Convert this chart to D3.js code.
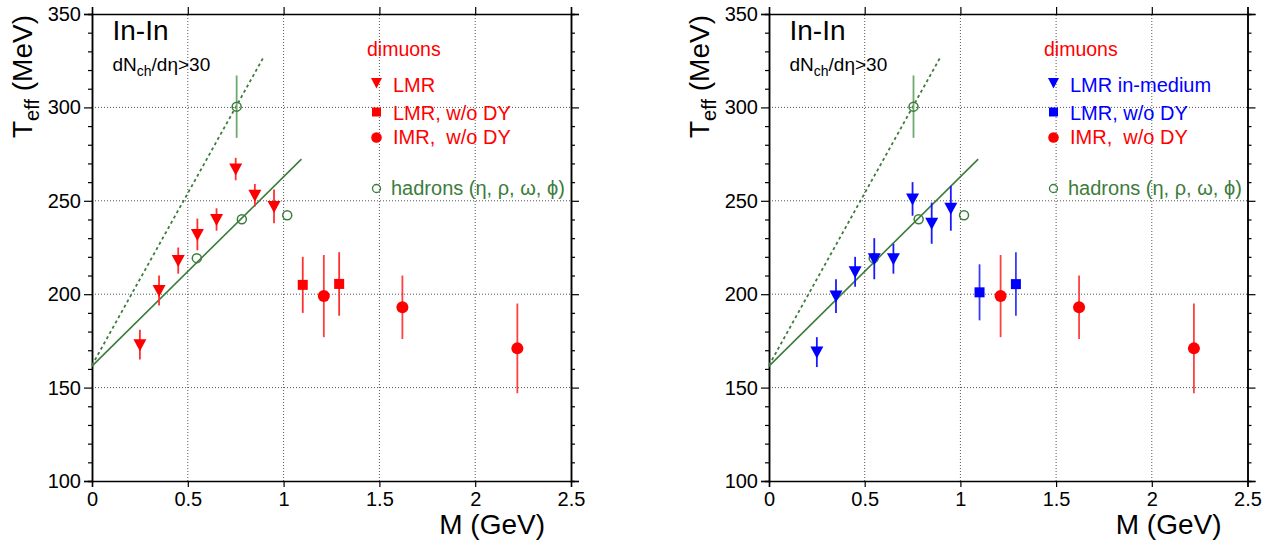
<!DOCTYPE html>
<html><head><meta charset="utf-8">
<script src="https://cdn.jsdelivr.net/npm/d3@7"></script>
<style>body{margin:0;background:#fff}svg{display:block}text{font-family:"Liberation Sans",Arial,sans-serif}</style>
</head><body>
<svg id="c" width="1272" height="544"></svg>
<script>
// ---- data ----
const xTicks = [0, 0.5, 1, 1.5, 2, 2.5];
const xTickLabels = ["0", "0.5", "1", "1.5", "2", "2.5"];
const yTicks = [100, 150, 200, 250, 300, 350];
const yTickLabels = ["100", "150", "200", "250", "300", "350"];

const lmrM = [0.25, 0.35, 0.45, 0.55, 0.65, 0.75, 0.85, 0.95];
const lmrTLeft = [173, 202, 218, 232, 240, 267, 253, 247];
const lmrErrLeft = [8, 8, 7, 8.5, 6, 6, 6, 9];
const lmrTRight = [169, 199, 212, 219, 219, 251, 238, 246];
const lmrErrRight = [8, 9, 8, 11, 8, 9, 11, 12];

const dyM = [1.10, 1.29];
const dyTLeft = [205, 205.5];
const dyErrLeft = [15, 17];
const dyTRight = [201, 205.4];
const dyErrRight = [15, 17];

const imrM = [1.21, 1.62, 2.22];
const imrT = [199, 193, 171];
const imrErr = [22, 17, 24];

const hadM = [0.547, 0.755, 0.782, 1.019];
const hadT = [219.3, 300.4, 240.1, 242.3];
const hadErr = [0, 16.7, 0, 0];

const solidLine = [[0, 161.5], [1.093, 272.3]];
const dashedLine = [[0, 162], [0.896, 327]];

const RED = "#ff0000", BLUE = "#0000ff", GREEN = "#3c7c3c";

const svg = d3.select("#c");

function panel(x0, x1, lmrT, lmrErr, dyT, dyErr, lmrColor, dyColor, lmrLabel) {
  const y0 = 481, y1 = 14;
  const x = d3.scaleLinear().domain([0, 2.5]).range([x0, x1]);
  const y = d3.scaleLinear().domain([100, 350]).range([y0, y1]);
  const g = svg.append("g");

  // grid
  const grid = g.append("g").attr("stroke", "#555").attr("stroke-width", 1).attr("stroke-dasharray", "1,2");
  grid.selectAll("line.v").data(xTicks.slice(1, -1)).join("line")
    .attr("x1", d => x(d)).attr("x2", d => x(d)).attr("y1", y0).attr("y2", y1);
  grid.selectAll("line.h").data(yTicks.slice(1, -1)).join("line")
    .attr("x1", x0).attr("x2", x1).attr("y1", d => y(d)).attr("y2", d => y(d));

  // axes
  const minorY = d3.range(100, 351, 10).filter(v => v % 50 !== 0);
  const ax = (sel) => sel.call(s => s.select(".domain").attr("stroke", "#000").attr("stroke-width", 1.5))
    .call(s => s.selectAll(".tick line").attr("stroke", "#000").attr("stroke-width", 1.2));
  g.append("g").attr("transform", `translate(${x0},0)`)
    .call(d3.axisLeft(y).tickValues(yTicks).tickSize(8).tickPadding(3).tickFormat((d, i) => yTickLabels[i]))
    .call(ax).call(s => s.selectAll("text").attr("font-size", 20).attr("fill", "#000")
      .style("font-family", '"Liberation Sans",Arial,sans-serif'));
  g.append("g").attr("transform", `translate(${x0},0)`)
    .call(d3.axisLeft(y).tickValues(minorY).tickSize(4).tickFormat("")).call(ax);
  g.append("g").attr("transform", `translate(${x1},0)`)
    .call(d3.axisRight(y).tickValues(yTicks).tickSize(8).tickFormat("")).call(ax);
  g.append("g").attr("transform", `translate(${x1},0)`)
    .call(d3.axisRight(y).tickValues(minorY).tickSize(4).tickFormat("")).call(ax);
  g.append("g").attr("transform", `translate(0,${y0})`)
    .call(d3.axisBottom(x).tickValues(xTicks).tickSize(6).tickPadding(5).tickFormat((d, i) => xTickLabels[i]))
    .call(ax).call(s => s.selectAll("text").attr("font-size", 20).attr("fill", "#000")
      .style("font-family", '"Liberation Sans",Arial,sans-serif'));
  g.append("g").attr("transform", `translate(0,${y1})`)
    .call(d3.axisTop(x).tickValues(xTicks).tickSize(7).tickFormat("")).call(ax);

  // titles
  g.append("text").attr("x", x1 - 26).attr("y", 534).attr("text-anchor", "end")
    .attr("font-size", 28).text("M (GeV)");
  const yt = g.append("text").attr("transform", `translate(${x0 - 60},15) rotate(-90)`)
    .attr("text-anchor", "end").attr("font-size", 28);
  yt.append("tspan").text("T");
  yt.append("tspan").attr("font-size", 20).attr("dy", 7).text("eff");
  yt.append("tspan").attr("dy", -7).text(" (MeV)");

  g.append("text").attr("x", x0 + 20.5).attr("y", 40).attr("font-size", 28).text("In-In");
  const dn = g.append("text").attr("x", x0 + 20.5).attr("y", 71).attr("font-size", 19);
  dn.append("tspan").text("dN");
  dn.append("tspan").attr("font-size", 14).attr("dy", 5).text("ch");
  dn.append("tspan").attr("dy", -5).text("/dη>30");

  // fit lines
  const line = d3.line().x(d => x(d[0])).y(d => y(d[1]));
  g.append("path").attr("d", line(solidLine)).attr("fill", "none").attr("stroke", GREEN).attr("stroke-width", 1.6);
  g.append("path").attr("d", line(dashedLine)).attr("fill", "none").attr("stroke", GREEN)
    .attr("stroke-width", 1.8).attr("stroke-dasharray", "3,3");

  const errBars = (ms, ts, es, color) => {
    g.append("g").selectAll("line").data(ms.map((m, i) => [m, ts[i], es[i]]).filter(d => d[2] > 0)).join("line")
      .attr("x1", d => x(d[0])).attr("x2", d => x(d[0]))
      .attr("y1", d => y(d[1] - d[2])).attr("y2", d => y(d[1] + d[2]))
      .attr("stroke", color).attr("stroke-width", 1.8);
  };
  const tri = "M-6.5,-5.5L6.5,-5.5L0,6.5Z";

  // hadrons
  errBars(hadM, hadT, hadErr, "#6fa86f");
  g.append("g").selectAll("circle").data(hadM.map((m, i) => [m, hadT[i]])).join("circle")
    .attr("cx", d => x(d[0])).attr("cy", d => y(d[1])).attr("r", 4.5)
    .attr("fill", "none").attr("stroke", GREEN).attr("stroke-width", 1.5);

  // LMR triangles
  errBars(lmrM, lmrT, lmrErr, lmrColor === RED ? "#ff3030" : "#1a1aff");
  g.append("g").selectAll("path").data(lmrM.map((m, i) => [m, lmrT[i]])).join("path")
    .attr("transform", d => `translate(${x(d[0])},${y(d[1])})`).attr("d", tri).attr("fill", lmrColor);

  // LMR w/o DY squares
  errBars(dyM, dyT, dyErr, dyColor === RED ? "#ff3030" : "#3a3aff");
  g.append("g").selectAll("rect").data(dyM.map((m, i) => [m, dyT[i]])).join("rect")
    .attr("x", d => x(d[0]) - 5).attr("y", d => y(d[1]) - 5).attr("width", 10).attr("height", 10).attr("fill", dyColor);

  // IMR circles
  errBars(imrM, imrT, imrErr, "#ff4040");
  g.append("g").selectAll("circle").data(imrM.map((m, i) => [m, imrT[i]])).join("circle")
    .attr("cx", d => x(d[0])).attr("cy", d => y(d[1])).attr("r", 6).attr("fill", RED);

  // legend
  const lx = x0 + 284, mx = x0 + 284.5, tx = x0 + 301;
  g.append("text").attr("x", lx - 9).attr("y", 56).attr("font-size", 19.5).attr("fill", RED).text("dimuons");
  g.append("path").attr("transform", `translate(${mx},83)`).attr("d", "M-5.5,-5L5.5,-5L0,5.5Z").attr("fill", lmrColor);
  g.append("text").attr("x", tx).attr("y", 91.5).attr("font-size", 20).attr("fill", lmrColor).text(lmrLabel);
  g.append("rect").attr("x", mx - 4.5).attr("y", 107.5).attr("width", 9).attr("height", 9).attr("fill", dyColor);
  g.append("text").attr("x", tx).attr("y", 119.5).attr("font-size", 20).attr("fill", dyColor).text("LMR, w/o DY");
  g.append("circle").attr("cx", mx).attr("cy", 137.5).attr("r", 5.3).attr("fill", RED);
  g.append("text").attr("x", tx).attr("y", 144).attr("font-size", 20).attr("fill", RED)
    .attr("xml:space", "preserve").style("white-space", "pre").text("IMR,  w/o DY");
  g.append("circle").attr("cx", mx).attr("cy", 188.5).attr("r", 4).attr("fill", "none").attr("stroke", GREEN).attr("stroke-width", 1.3);
  g.append("text").attr("x", tx - 2).attr("y", 195).attr("font-size", 20).attr("fill", GREEN).text("hadrons (η, ρ, ω, ϕ)");
}

panel(92, 571, lmrTLeft, lmrErrLeft, dyTLeft, dyErrLeft, RED, RED, "LMR");
panel(769, 1247.5, lmrTRight, lmrErrRight, dyTRight, dyErrRight, BLUE, BLUE, "LMR in-medium");
</script>
</body></html>
